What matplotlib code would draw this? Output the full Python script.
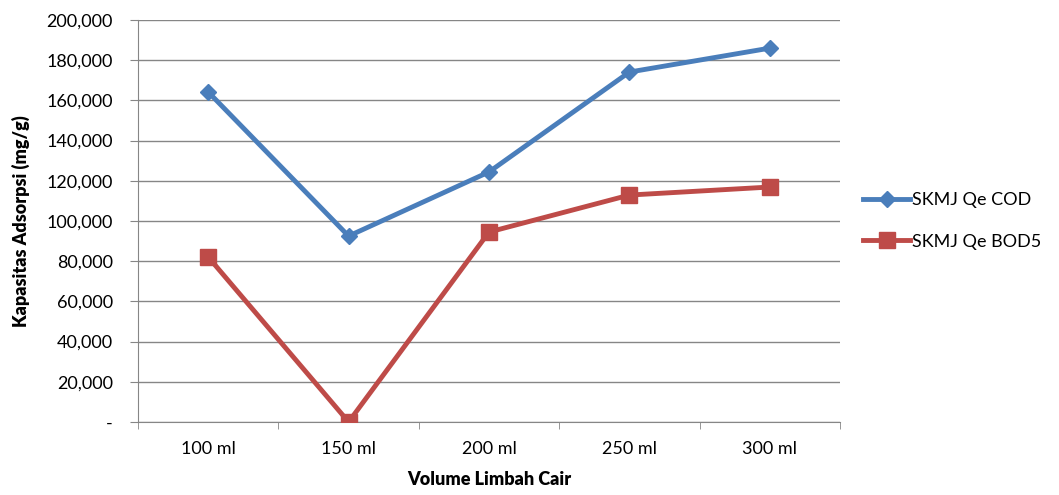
import numpy as np
import matplotlib.pyplot as plt
from matplotlib.ticker import FuncFormatter

# data
volume = ["100 ml", "150 ml", "200 ml", "250 ml", "300 ml"]
qe_cod = [164200, 92500, 124400, 174100, 186000]
qe_bod5 = [82100, 0, 94500, 112900, 116900]

plt.rcParams['font.family'] = ['Lato', 'DejaVu Sans']

fig = plt.figure(figsize=(10.59, 4.95), dpi=100)
ax = fig.add_axes([0.1303, 0.1475, 0.6629, 0.8121])

x = np.arange(len(volume))
ax.plot(x, qe_cod, color='#4A7EBB', lw=3.5, marker='D', ms=8,
        label='SKMJ Qe COD', zorder=3)
ax.plot(x, qe_bod5, color='#BE4B48', lw=3.5, marker='s', ms=11,
        label='SKMJ Qe BOD5', zorder=3)

ax.set_xlim(-0.5, len(volume) - 0.5)
ax.set_ylim(0, 200000)
ax.set_yticks(np.arange(0, 200001, 20000))
ax.yaxis.set_major_formatter(FuncFormatter(lambda v, p: '-' if v == 0 else f'{int(v):,}'))
ax.set_xticks(x)
ax.set_xticklabels(volume)
ax.set_xticks(np.arange(-0.5, len(volume)), minor=True)

ax.grid(axis='y', color='#868686', lw=1)
ax.set_axisbelow(True)
for s in ['top', 'right']:
    ax.spines[s].set_visible(False)
for s in ['left', 'bottom']:
    ax.spines[s].set_color('#868686')
ax.tick_params(axis='y', length=6, color='#868686', labelsize=13, pad=12)
ax.tick_params(axis='x', which='major', length=0, labelsize=13, pad=14)
ax.tick_params(axis='x', which='minor', length=5, color='#868686')

ax.set_xlabel('Volume Limbah Cair', fontsize=13, fontweight='heavy', labelpad=10)
ax.set_ylabel('Kapasitas Adsorpsi (mg/g)', fontsize=13, fontweight='heavy', labelpad=12)

ax.legend(loc='center left', bbox_to_anchor=(1.01, 0.5), frameon=False,
          fontsize=13, handlelength=2.6, labelspacing=1.4, handletextpad=0.1)

fig.savefig('out.png', dpi=100)
